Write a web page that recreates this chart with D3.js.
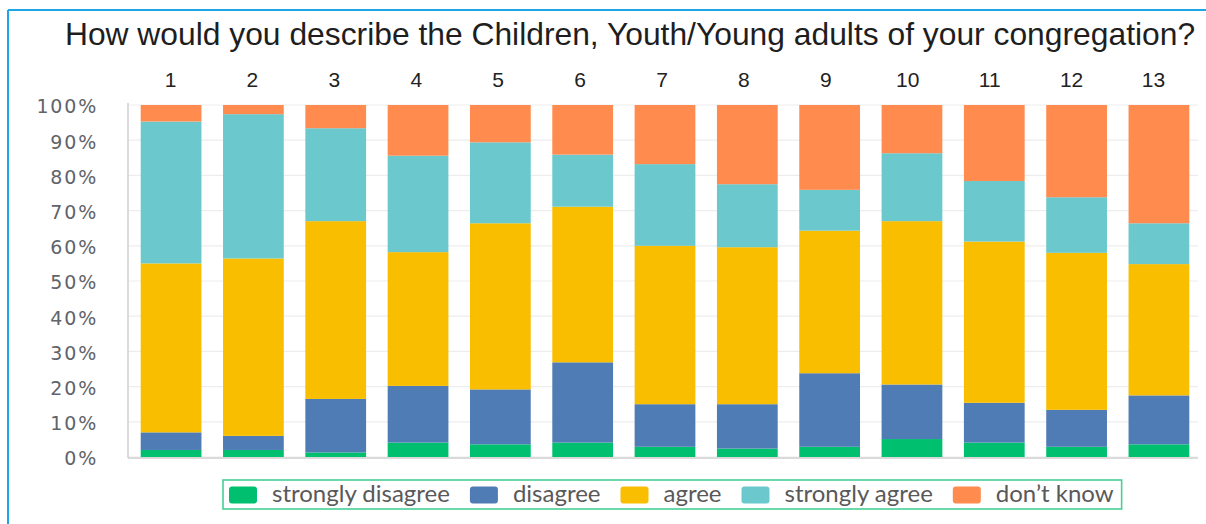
<!DOCTYPE html>
<html>
<head>
<meta charset="utf-8">
<script src="https://cdn.jsdelivr.net/npm/d3@7"></script>
<style>
    body { margin: 0; background: #ffffff; }
</style>
</head>
<body>
<div id="chart"></div>
<script>
var title = "How would you describe the Children, Youth/Young adults of your congregation?";
var questions = ["1", "2", "3", "4", "5", "6", "7", "8", "9", "10", "11", "12", "13"];
var attributes = ["strongly_disagree", "disagree", "agree", "strongly_agree", "dont_know"];
var legend_attributes = ["strongly disagree", "disagree", "agree", "strongly agree", "don\u2019t know"];
var y_ticks = [0, 10, 20, 30, 40, 50, 60, 70, 80, 90, 100];

// percentages per question
var strongly_disagree = [2.0, 2.0, 1.3, 4.1, 3.6, 4.1, 2.9, 2.4, 2.9, 5.1, 4.1, 2.9, 3.6];
var disagree          = [5.0, 4.0, 15.2, 16.1, 15.6, 22.8, 12.1, 12.6, 20.9, 15.5, 11.3, 10.5, 13.9];
var agree             = [48.0, 50.4, 50.5, 38.0, 47.2, 44.2, 45.0, 44.6, 40.5, 46.4, 45.8, 44.6, 37.3];
var strongly_agree    = [40.3, 41.0, 26.4, 27.4, 23.0, 14.8, 23.2, 17.9, 11.6, 19.3, 17.2, 15.8, 11.6];
var dont_know         = [4.7, 2.6, 6.6, 14.4, 10.6, 14.1, 16.8, 22.5, 24.1, 13.7, 21.6, 26.2, 33.6];

var colors = d3.scaleOrdinal().domain(attributes)
    .range(["#00bf6f", "#507cb6", "#f9be00", "#6bc8cd", "#ff8b4f"]);

var w = 1206;
var h = 524;

// build rows for d3.stack
var dataset = questions.map(function (q, i) {
    return {
        question: q,
        strongly_disagree: strongly_disagree[i],
        disagree: disagree[i],
        agree: agree[i],
        strongly_agree: strongly_agree[i],
        dont_know: dont_know[i]
    };
});

var series = d3.stack().keys(attributes)(dataset);

var svg = d3.select("#chart").append("svg").attr("width", w).attr("height", h);

// outer frame (only top and left edges are visible)
svg.append("line").attr("x1", 8).attr("x2", w).attr("y1", 10).attr("y2", 10)
    .attr("stroke", "#1ea5e6").attr("stroke-width", 2);
svg.append("line").attr("x1", 8).attr("x2", 8).attr("y1", 10).attr("y2", h)
    .attr("stroke", "#1ea5e6").attr("stroke-width", 2);

var xScale = d3.scaleBand().domain(questions).range([130, 1200])
    .paddingInner(0.262).paddingOuter(0.13);
var yScale = d3.scaleLinear().domain([0, 100]).range([457, 105]);
// the number row on top is set a little apart from the bars
var labelScale = d3.scalePoint().domain(questions).range([170, 1153]);

// gridlines
svg.append("g").selectAll("line")
    .data(y_ticks)
    .enter()
    .append("line")
    .attr("x1", 128)
    .attr("x2", 1198)
    .attr("y1", function (d) { return yScale(d); })
    .attr("y2", function (d) { return yScale(d); })
    .attr("stroke", "#ededed")
    .attr("stroke-width", 1.2);

// stacked bars
var groups = svg.selectAll("g.layer").data(series).enter().append("g")
    .attr("class", "layer")
    .style("fill", function (d) { return colors(d.key); });

groups.selectAll("rect")
    .data(function (d) { return d; })
    .enter()
    .append("rect")
    .attr("x", function (d) { return xScale(d.data.question); })
    .attr("y", function (d) { return yScale(d[1]); })
    .attr("width", xScale.bandwidth())
    .attr("height", function (d) { return yScale(d[0]) - yScale(d[1]); });

// axis lines
svg.append("line").attr("x1", 128).attr("x2", 128).attr("y1", 103).attr("y2", 458)
    .attr("stroke", "#cfcfcf").attr("stroke-width", 1.5);
svg.append("line").attr("x1", 128).attr("x2", 1198).attr("y1", 458).attr("y2", 458)
    .attr("stroke", "#cfcfcf").attr("stroke-width", 1.5);

// y tick labels
var yAxis = d3.axisLeft(yScale).tickValues(y_ticks).tickSize(0).tickPadding(0)
    .tickFormat(function (d) { return d + "%"; });
var yG = svg.append("g").attr("transform", "translate(98, 0)").call(yAxis);
yG.select(".domain").remove();
yG.selectAll("text")
    .attr("font-family", "DejaVu Sans")
    .attr("font-size", "19px")
    .attr("letter-spacing", "1.8px")
    .attr("fill", "#60636a")
    .attr("dy", "0.42em");

// question numbers on top
var xAxis = d3.axisTop(labelScale).tickSize(0).tickPadding(0);
var xG = svg.append("g").attr("transform", "translate(0, 87)").call(xAxis);
xG.select(".domain").remove();
xG.selectAll("text")
    .attr("font-family", "Liberation Sans")
    .attr("font-size", "21px")
    .attr("fill", "#222222")
    .attr("dy", 0);

// title
svg.append("text")
    .attr("x", 630)
    .attr("y", 45)
    .attr("text-anchor", "middle")
    .attr("font-family", "Liberation Sans")
    .attr("font-size", "31.8px")
    .attr("fill", "#1e1e1e")
    .text(title);

// legend
var legend_box = svg.append("rect")
    .attr("x", 223).attr("y", 480).attr("width", 890).attr("height", 29)
    .attr("fill", "#ffffff").attr("stroke", "#47cf96").attr("stroke-width", 1.6);

var legend = svg.append("g");
var lx = 229;
legend_attributes.forEach(function (label, i) {
    legend.append("rect")
        .attr("x", lx).attr("y", 486.5)
        .attr("width", 28).attr("height", 17)
        .attr("rx", 3).attr("ry", 3)
        .attr("fill", colors(attributes[i]));
    var t = legend.append("text")
        .attr("x", lx + 43)
        .attr("y", 502)
        .attr("font-family", "Lato")
        .attr("font-size", "24px")
        .attr("fill", "#595959")
        .text(label);
    lx = lx + 43 + t.node().getComputedTextLength() + 20;
});
legend_box.attr("width", lx - 20 + 8 - 223);
</script>
</body>
</html>
